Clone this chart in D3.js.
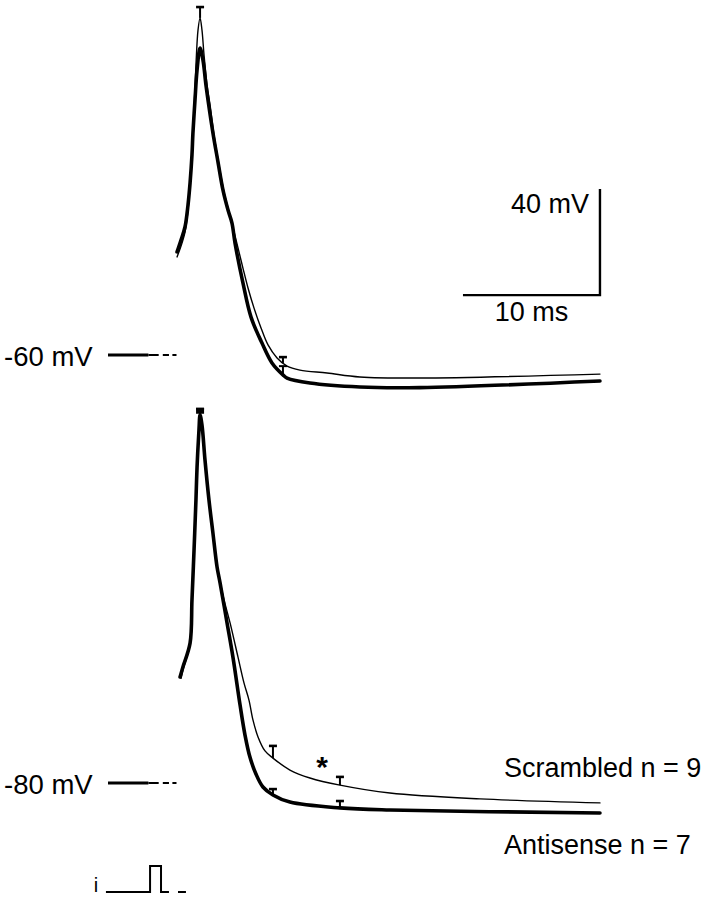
<!DOCTYPE html>
<html><head><meta charset="utf-8">
<script src="https://cdn.jsdelivr.net/npm/d3@7"></script>
<style>html,body{margin:0;padding:0;background:#fff}svg{display:block}text{font-family:"Liberation Sans",Arial,sans-serif;fill:#000}</style>
</head><body><div id="chart"></div>
<script>
// ---- data (time in ms, membrane potential in mV) ----
// Top panel: holding -60 mV
const topAntisenseT = [5.04,5.33,5.62,5.84,5.99,6.13,6.20,6.35,6.50,6.72,6.93,7.15,7.30,7.66,8.03,8.39,8.76,9.05,9.27,9.85,10.44,11.24,11.97,12.77,13.07,14.74,18.39,22.77,35.91];
const topAntisenseV = [-21.1,-16.6,-11.7,-3.4,4.9,15.5,23.8,36.2,47.5,55.8,51.3,41.9,36.2,23.8,12.8,2.3,-5.3,-10.2,-17.7,-32.8,-45.7,-55.5,-63.0,-67.5,-68.7,-70.6,-72.1,-72.3,-69.8];
const topScrambledT = [5.04,5.33,5.62,5.84,5.99,6.13,6.28,6.42,6.57,6.72,6.86,7.01,7.23,7.45,7.74,8.10,8.47,8.83,9.20,9.49,9.85,10.22,10.66,11.17,11.68,12.34,13.07,14.01,15.99,18.39,22.77,35.91];
const topScrambledV = [-23.0,-18.9,-13.6,-5.3,4.2,17.4,32.5,49.4,62.6,67.2,62.6,53.2,41.9,34.3,23.0,11.7,1.5,-6.0,-13.6,-19.6,-27.2,-34.7,-42.3,-49.8,-56.2,-61.1,-64.2,-65.7,-66.8,-68.3,-68.7,-67.2];
// Bottom panel: holding -80 mV
const botAntisenseT = [5.26,5.47,5.99,6.13,6.28,6.42,6.50,6.64,6.72,6.86,7.08,7.37,7.66,7.96,8.18,8.69,9.12,9.64,10.00,10.36,10.80,11.31,12.04,13.28,16.93,20.58,35.91];
const botAntisenseV = [-40.0,-36.2,-27.2,-10.9,7.9,26.8,39.2,53.2,58.9,55.1,41.9,26.8,14.3,1.5,-4.5,-19.6,-32.5,-50.6,-61.9,-70.2,-76.6,-81.5,-84.5,-87.2,-89.4,-90.2,-91.3];
const botScrambledT = [5.33,5.50,5.99,6.13,6.28,6.42,6.50,6.64,6.72,6.86,7.08,7.37,7.66,7.96,8.18,8.47,8.91,9.49,9.93,10.29,10.58,10.95,11.46,12.04,13.28,14.74,16.93,20.58,27.15,35.91];
const botScrambledV = [-40.5,-36.8,-27.5,-11.2,7.6,26.5,39.0,53.0,58.9,55.3,42.2,27.2,14.6,2.0,-4.0,-10.9,-19.6,-32.5,-42.3,-48.7,-56.2,-62.6,-67.9,-70.6,-75.1,-78.1,-80.8,-83.8,-86.0,-87.5];
// Error bars: [time, mean, mean+SEM]
const topErrScrambled = [[6.72,67.2,71.3],[12.77,-63.0,-60.8]];
const topErrAntisense = [[12.77,-67.5,-64.2]];
const botErrScrambled = [[12.04,-70.6,-66.0],[16.93,-80.8,-77.7]];
const botErrAntisense = [[6.72,58.9,61.1],[12.04,-84.5,-82.3],[16.93,-89.4,-86.8]];
// Stimulus current (relative units)
const stimT = [-0.15,3.07,3.07,3.87,3.87,4.45];
const stimI = [0,0,1,1,0,0];
const stimTail = [5.11,5.69];
const labels = ["-60 mV","-80 mV","Scrambled n = 9","Antisense n = 7","40 mV","10 ms","i","*"];
const scaleBarMs = 10, scaleBarMv = 40;

// ---- layout ----
const W = 713, H = 900;
const svg = d3.select("#chart").append("svg").attr("width",W).attr("height",H);
const x = d3.scaleLinear().domain([0,10]).range([108,245]);
const yTop = d3.scaleLinear().domain([-60,-20]).range([355,249]);
const yBot = d3.scaleLinear().domain([-80,-40]).range([783,677]);
const yStim = d3.scaleLinear().domain([0,1]).range([892,866]);

const line = (ys) => d3.line().x(d=>x(d[0])).y(d=>ys(d[1])).curve(d3.curveCatmullRom.alpha(0.5));
const zip = (a,b) => a.map((v,i)=>[v,b[i]]);

function trace(T,V,ys,w){
  svg.append("path").datum(zip(T,V)).attr("d",line(ys)).attr("fill","none")
    .attr("stroke","#000").attr("stroke-width",w).attr("stroke-linejoin","round").attr("stroke-linecap","round");
}
function errs(arr,ys,capW){
  arr.forEach(([t,m,u])=>{
    svg.append("line").attr("x1",x(t)).attr("x2",x(t)).attr("y1",ys(m)).attr("y2",ys(u)).attr("stroke","#000").attr("stroke-width",2);
    svg.append("line").attr("x1",x(t)-4).attr("x2",x(t)+4).attr("y1",ys(u)).attr("y2",ys(u)).attr("stroke","#000").attr("stroke-width",capW);
  });
}

// top panel
trace(topScrambledT,topScrambledV,yTop,1.4);
trace(topAntisenseT,topAntisenseV,yTop,3.6);
errs(topErrScrambled,yTop,2.6);
errs(topErrAntisense,yTop,2);
// bottom panel
trace(botScrambledT,botScrambledV,yBot,1.4);
trace(botAntisenseT,botAntisenseV,yBot,3.6);
errs(botErrScrambled,yBot,2.6);
errs(botErrAntisense,yBot,2.6);
svg.append("rect").attr("x",x(6.72)-4).attr("y",yBot(61.6)).attr("width",8).attr("height",6).attr("fill","#000");

// resting baseline markers
function baseline(ys,v){
  const y0 = ys(v);
  svg.append("line").attr("x1",x(0)).attr("x2",x(2.95)).attr("y1",y0).attr("y2",y0).attr("stroke","#000").attr("stroke-width",3.2);
  [[2.95,3.7],[4.0,4.45],[4.7,5.0]].forEach(([a,b])=>{
    svg.append("line").attr("x1",x(a)).attr("x2",x(b)).attr("y1",y0).attr("y2",y0).attr("stroke","#000").attr("stroke-width",2);
  });
}
baseline(yTop,-60);
baseline(yBot,-80);

// stimulus
svg.append("path").datum(zip(stimT,stimI)).attr("d",d3.line().x(d=>x(d[0])).y(d=>yStim(d[1])))
  .attr("fill","none").attr("stroke","#000").attr("stroke-width",2);
svg.append("line").attr("x1",x(stimTail[0])).attr("x2",x(stimTail[1])).attr("y1",yStim(0)).attr("y2",yStim(0)).attr("stroke","#000").attr("stroke-width",2);

// scale bar
const sbT = 35.91, sbV = -37.4;
svg.append("path").attr("d",`M${x(sbT-scaleBarMs)},${yTop(sbV)}H${x(sbT)}V${yTop(sbV+scaleBarMv)}`)
  .attr("fill","none").attr("stroke","#000").attr("stroke-width",2.4);

// text
const txt = (s,xx,yy,size,anchor) => svg.append("text").attr("x",xx).attr("y",yy).attr("font-size",size).attr("text-anchor",anchor||"start").text(s);
txt(labels[0],4,366,27.5);
txt(labels[1],4,794,27.5);
txt(labels[2],504,777,27);
txt(labels[3],504,854,27);
txt(labels[4],511,213,27);
txt(labels[5],x(sbT-scaleBarMs/2),321,27,"middle");
txt(labels[6],96,892,20,"middle");
svg.append("text").attr("x",x(15.62)).attr("y",yBot(-71.3)+17).attr("font-size",30).attr("font-weight","bold").attr("text-anchor","middle").text(labels[7]);
</script></body></html>
